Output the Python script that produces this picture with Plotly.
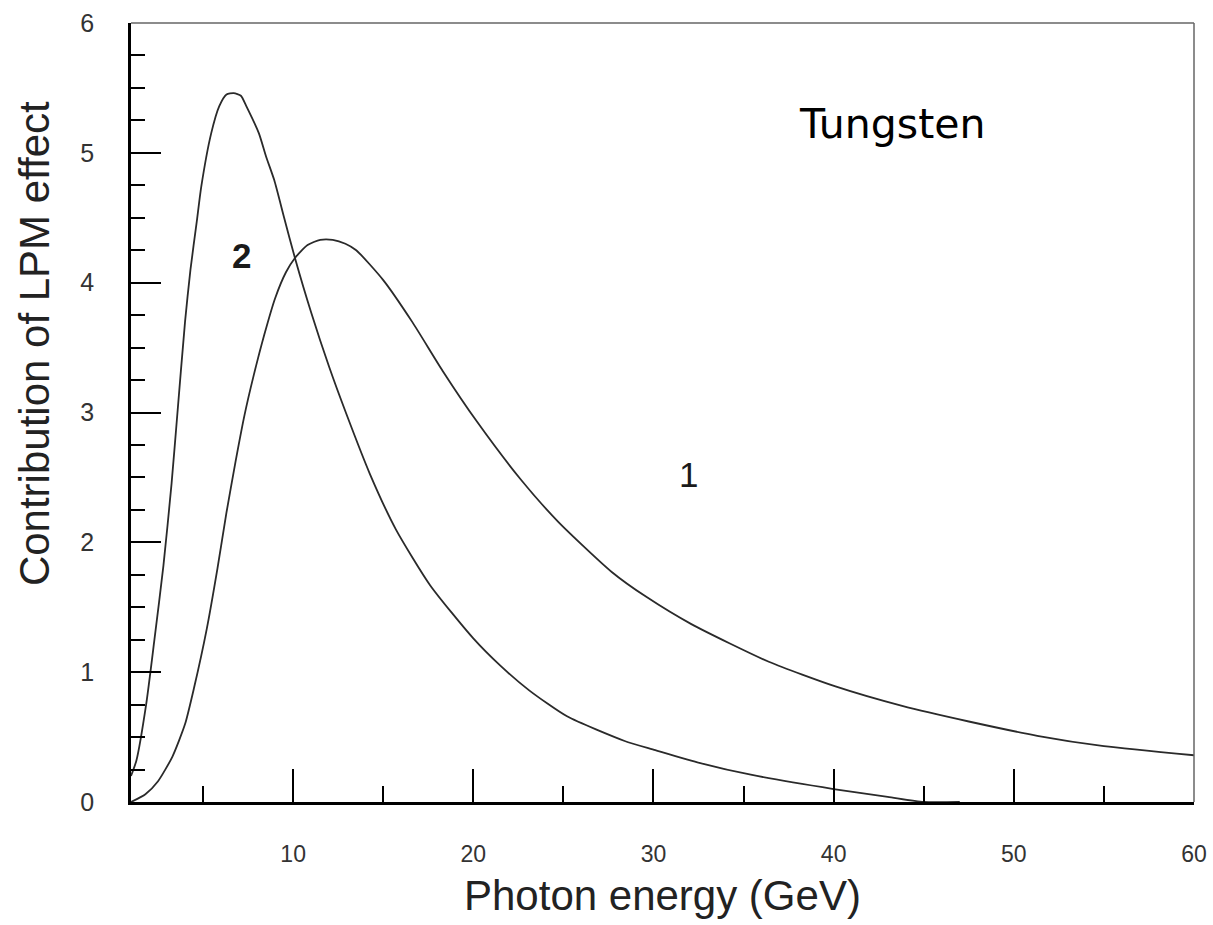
import plotly.graph_objects as go

# Curve 1 (broader peak)
x1 = [1.0, 1.8, 2.5, 3.3, 4.0, 4.5, 5.2, 5.8, 6.3, 6.8, 7.3, 7.8, 8.4, 9.0, 9.6, 10.1, 10.8,
      11.5, 12.2, 12.9, 13.5, 15.0, 16.6, 18.3, 20.2, 22.6, 24.7, 27.7, 29.6, 32.1,
      36.4, 40.1, 43.8, 47.5, 51.3, 55.0, 60.0]
y1 = [0.0, 0.06, 0.16, 0.35, 0.60, 0.88, 1.33, 1.80, 2.23, 2.62, 2.98, 3.28, 3.60, 3.88, 4.08, 4.19, 4.29,
      4.33, 4.33, 4.30, 4.25, 4.02, 3.70, 3.32, 2.93, 2.49, 2.16, 1.77, 1.58, 1.37,
      1.08, 0.89, 0.74, 0.62, 0.51, 0.43, 0.36]

# Curve 2 (sharp peak)
x2 = [1.0, 1.3, 1.85, 2.3, 2.8, 3.25, 3.55, 4.0, 4.3, 4.65, 4.9, 5.45, 5.9, 6.3, 6.7, 7.1,
      7.4, 8.1, 8.5, 8.95, 9.5, 10.1, 11.0, 12.0, 12.95, 14.25, 15.7, 17.6, 20.0, 21.5,
      23.1, 25.2, 28.4, 30.1, 32.6, 35.4, 40.0, 43.0, 45.0, 47.0]
y2 = [0.20, 0.32, 0.76, 1.25, 1.82, 2.45, 2.95, 3.70, 4.10, 4.47, 4.74, 5.15, 5.36, 5.45, 5.46, 5.44,
      5.36, 5.15, 4.97, 4.79, 4.50, 4.19, 3.77, 3.35, 2.99, 2.53, 2.10, 1.67, 1.26, 1.05,
      0.86, 0.66, 0.47, 0.40, 0.30, 0.21, 0.10, 0.04, 0.0, 0.0]

curve_labels = ["1", "2"]
label_x = [31.96, 7.11]
label_y = [2.52, 4.21]
label_weight = ["normal", "bold"]

x_ticks = [10, 20, 30, 40, 50, 60]
y_ticks = [0, 1, 2, 3, 4, 5, 6]

line_color = "#2a2a2a"

fig = go.Figure()
fig.add_trace(go.Scatter(x=x1, y=y1, mode="lines", line=dict(color=line_color, width=1.8, shape="spline", smoothing=0.6),
                         showlegend=False, hoverinfo="skip"))
fig.add_trace(go.Scatter(x=x2, y=y2, mode="lines", line=dict(color=line_color, width=1.8, shape="spline", smoothing=0.6),
                         showlegend=False, hoverinfo="skip"))

tickfont = dict(family="Liberation Sans, Arial, sans-serif", size=23, color="#333333")

fig.update_xaxes(
    range=[1, 60], tickmode="array", tickvals=x_ticks, ticktext=[str(v) for v in x_ticks],
    ticks="inside", ticklen=33, tickwidth=2, tickcolor="black",
    minor=dict(ticks="inside", ticklen=16, tickwidth=2, tickcolor="black", dtick=5, tick0=0),
    showline=True, linecolor="black", linewidth=2.5, mirror=False, automargin=False,
    showgrid=False, zeroline=False, tickfont=tickfont, ticklabelstandoff=30,
)
fig.update_yaxes(
    range=[0, 6], tickmode="array", tickvals=y_ticks, ticktext=[str(v) for v in y_ticks],
    ticks="inside", ticklen=30, tickwidth=2, tickcolor="black",
    minor=dict(ticks="inside", ticklen=14, tickwidth=2, tickcolor="black", dtick=0.25, tick0=0),
    showline=True, linecolor="black", linewidth=2.5, mirror=False, automargin=False,
    showgrid=False, zeroline=False, tickfont=dict(tickfont, size=25), ticklabelstandoff=29,
)

# frame top/right
fig.add_shape(type="line", xref="paper", yref="paper", x0=0, x1=1, y0=1, y1=1,
              line=dict(color="#666666", width=1.5))
fig.add_shape(type="line", xref="paper", yref="paper", x0=1, x1=1, y0=0, y1=1,
              line=dict(color="#666666", width=1.5))

for t, lx, ly, w in zip(curve_labels, label_x, label_y, label_weight):
    fig.add_annotation(x=lx, y=ly, text=t, showarrow=False,
                       font=dict(family="Liberation Sans, Arial, sans-serif", size=35, color="#1a1a1a", weight=w))

fig.add_annotation(x=43.23, y=5.225, text="Tungsten", showarrow=False,
                   font=dict(family="DejaVu Sans, Verdana, sans-serif", size=41, color="black"))

# axis titles
fig.add_annotation(xref="paper", yref="paper", x=0.5, y=-0.153, yanchor="bottom",
                   text="Photon energy (GeV)", showarrow=False,
                   font=dict(family="Liberation Sans, Arial, sans-serif", size=42, color="#222222"))
fig.add_annotation(xref="paper", yref="paper", x=-0.0913, y=0.589, xanchor="center", yanchor="middle",
                   text="Contribution of LPM effect", textangle=-90, showarrow=False,
                   font=dict(family="Liberation Sans, Arial, sans-serif", size=42, color="#222222"))

fig.update_layout(
    width=1213, height=925,
    margin=dict(l=131, r=19, t=23, b=123, autoexpand=False),
    plot_bgcolor="white", paper_bgcolor="white",
)

fig.write_html("out.html", config={"displayModeBar": False},
               post_script="document.body.style.margin='0';document.body.style.overflow='hidden';")
